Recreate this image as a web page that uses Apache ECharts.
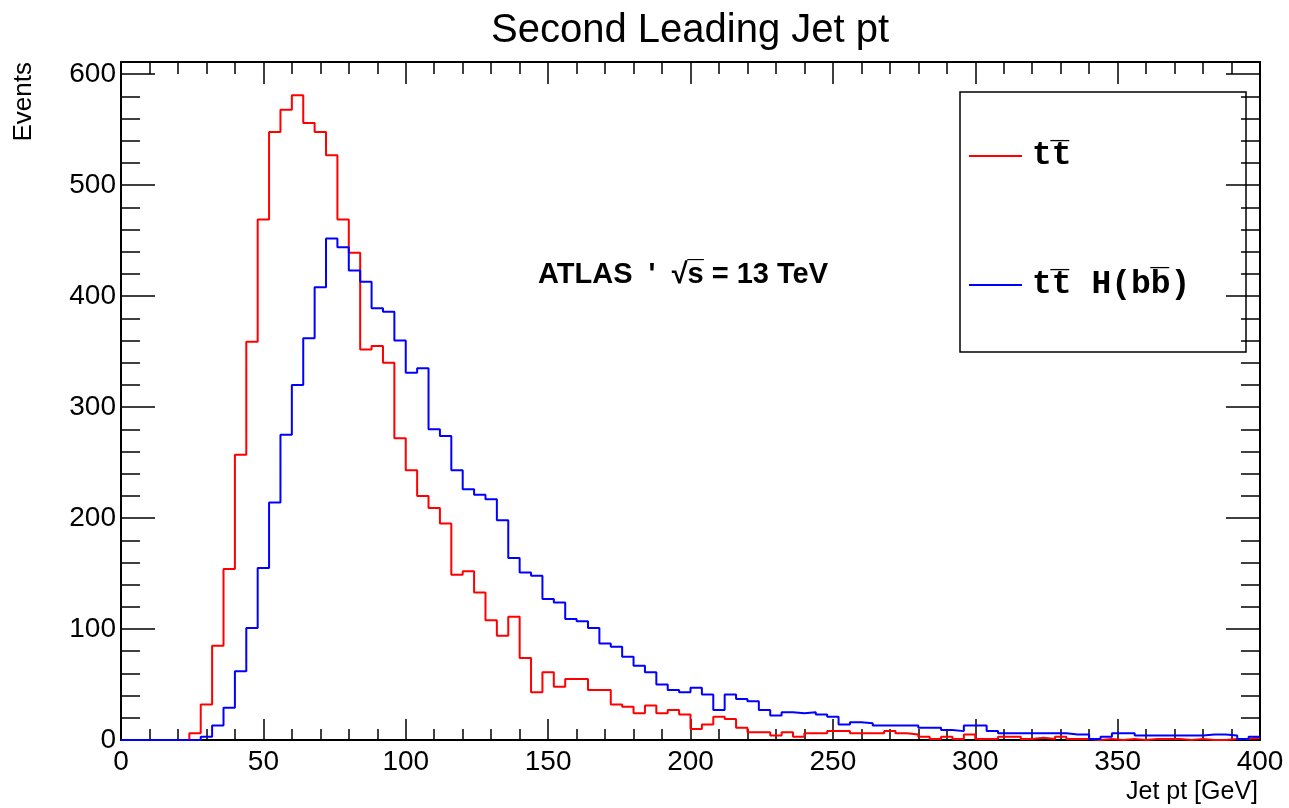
<!DOCTYPE html>
<html><head><meta charset="utf-8">
<script src="https://cdn.jsdelivr.net/npm/echarts@6/dist/echarts.min.js"></script>
<style>html,body{margin:0;padding:0;background:#fff}#c{width:1289px;height:808px}</style>
</head><body><div id="c"></div>
<script>
const chartTitle = 'Second Leading Jet pt';
const xAxisTitle = 'Jet pt [GeV]';
const yAxisTitle = 'Events';
const annotation = "ATLAS  '  \u221As\u0305 = 13 TeV";
const seriesNames = ['tt\u0305', 'tt\u0305 H(bb\u0305)'];
const xRange = [0, 400];
const yRange = [0, 611];
const xTickStep = 50;
const yTickStep = 100;
const binWidth = 4;

// t tbar (red), events per 4 GeV bin starting at 0
const ttbar = [
  0, 0, 0, 0, 0, 0, 6, 32, 85, 154,
  257, 359, 469, 548, 568, 581, 556, 548, 527, 469,
  439, 352, 355, 340, 272, 243, 220, 209, 195, 149,
  152, 133, 108, 94, 111, 74, 43, 61, 48, 55,
  55, 45, 45, 32, 30, 24, 31, 24, 27, 23,
  10, 14, 21, 19, 11, 7, 7, 4, 7, 3,
  6, 6, 8, 8, 6, 6, 6, 8, 6, 5,
  3, 1, 3, 1, 5, 1, 1, 3, 3, 1,
  2, 1, 3, 1, 1, 0, 1, 0, 1, 0,
  1, 1, 1, 0, 1, 0, 0, 1, 1, 2
];
// t tbar H(b bbar) (blue)
const tthbb = [
  0, 0, 0, 0, 0, 0, 0, 3, 13, 29,
  62, 101, 155, 214, 275, 320, 362, 408, 452, 444,
  423, 413, 389, 386, 360, 331, 335, 280, 274, 243,
  226, 221, 217, 198, 164, 151, 148, 127, 124, 109,
  107, 101, 87, 84, 75, 67, 61, 50, 45, 43,
  47, 41, 27, 41, 37, 35, 27, 22, 25, 24,
  25, 23, 21, 14, 16, 15, 13, 13, 13, 13,
  11, 11, 9, 8, 13, 13, 8, 6, 6, 6,
  6, 6, 6, 5, 5, 1, 3, 6, 6, 4,
  4, 4, 4, 4, 4, 5, 5, 4, 1, 3
];

function toSteps(vals) {
  const pts = vals.map((v, i) => [xRange[0] + i * binWidth, v]);
  pts.push([xRange[0] + vals.length * binWidth, vals[vals.length - 1]]);
  return pts;
}

const SANS = '"Liberation Sans", Arial, Helvetica, sans-serif';
const MONO = '"Liberation Mono", "Courier New", "DejaVu Sans Mono", monospace';
const INK = '#000';

function xAx(pos) {
  const bottom = pos === 'bottom';
  return {
    type: 'value', position: pos, min: xRange[0], max: xRange[1], interval: xTickStep,
    axisLine: { show: true, onZero: false, lineStyle: { color: INK, width: 2 } },
    axisTick: { show: true, inside: true, length: bottom ? 21 : 22, lineStyle: { color: INK, width: 1.5 } },
    minorTick: { show: true, splitNumber: 5, length: bottom ? 11 : 12, lineStyle: { color: INK, width: 1.5 } },
    splitLine: { show: false }, minorSplitLine: { show: false },
    axisLabel: bottom ? { show: true, color: INK, fontFamily: SANS, fontSize: 28, margin: 8 } : { show: false },
    name: bottom ? xAxisTitle : '',
    nameLocation: 'end', nameGap: -2,
    nameTextStyle: { color: INK, fontFamily: SANS, fontSize: 25, align: 'right', verticalAlign: 'top', padding: [40, 0, 0, 0] }
  };
}
function yAx(pos) {
  const left = pos === 'left';
  return {
    type: 'value', position: pos, min: yRange[0], max: yRange[1], interval: yTickStep,
    axisLine: { show: true, onZero: false, lineStyle: { color: INK, width: 2 } },
    axisTick: { show: true, inside: true, length: 34, lineStyle: { color: INK, width: 1.5 } },
    minorTick: { show: true, splitNumber: 5, length: 19, lineStyle: { color: INK, width: 1.5 } },
    splitLine: { show: false }, minorSplitLine: { show: false },
    axisLabel: left ? { show: true, color: INK, fontFamily: SANS, fontSize: 28, margin: 5, showMaxLabel: false } : { show: false }
  };
}

const chart = echarts.init(document.getElementById('c'), null, { renderer: 'canvas' });
chart.setOption({
  animation: false,
  backgroundColor: '#fff',
  title: {
    text: chartTitle, left: 486, top: 6,
    textStyle: { color: INK, fontFamily: SANS, fontSize: 40, fontWeight: 'normal' }
  },
  grid: { left: 121, right: 29, top: 62, bottom: 68, outerBoundsMode: 'none', containLabel: false },
  xAxis: [xAx('bottom'), xAx('top')],
  yAxis: [yAx('left'), yAx('right')],
  legend: {
    orient: 'vertical', left: 969, top: 139, padding: 0,
    icon: 'rect', itemWidth: 53, itemHeight: 2, itemGap: 95,
    textStyle: { color: INK, fontFamily: MONO, fontWeight: 'bold', fontSize: 33, lineHeight: 34, padding: [0, 0, 0, 5] },
    data: seriesNames
  },
  series: [
    { name: seriesNames[0], type: 'line', step: 'end', symbol: 'none', z: 2,
      data: toSteps(ttbar), lineStyle: { color: '#ff0000', width: 2 }, itemStyle: { color: '#ff0000' } },
    { name: seriesNames[1], type: 'line', step: 'end', symbol: 'none', z: 3,
      data: toSteps(tthbb), lineStyle: { color: '#0000ff', width: 2 }, itemStyle: { color: '#0000ff' } }
  ],
  graphic: [
    { type: 'rect', shape: { x: 960, y: 92, width: 286, height: 260 }, z: 10,
      style: { fill: 'transparent', stroke: INK, lineWidth: 1.5 } },
    { type: 'text', x: 538, y: 275, z: 10,
      style: { text: annotation, fill: INK, font: 'bold 29px ' + SANS, textAlign: 'left', textVerticalAlign: 'middle' } },
    { type: 'text', x: 24, y: 62, rotation: Math.PI / 2, z: 10,
      style: { text: yAxisTitle, fill: INK, font: '26px ' + SANS, textAlign: 'right', textVerticalAlign: 'middle' } }
  ]
});
</script></body></html>
